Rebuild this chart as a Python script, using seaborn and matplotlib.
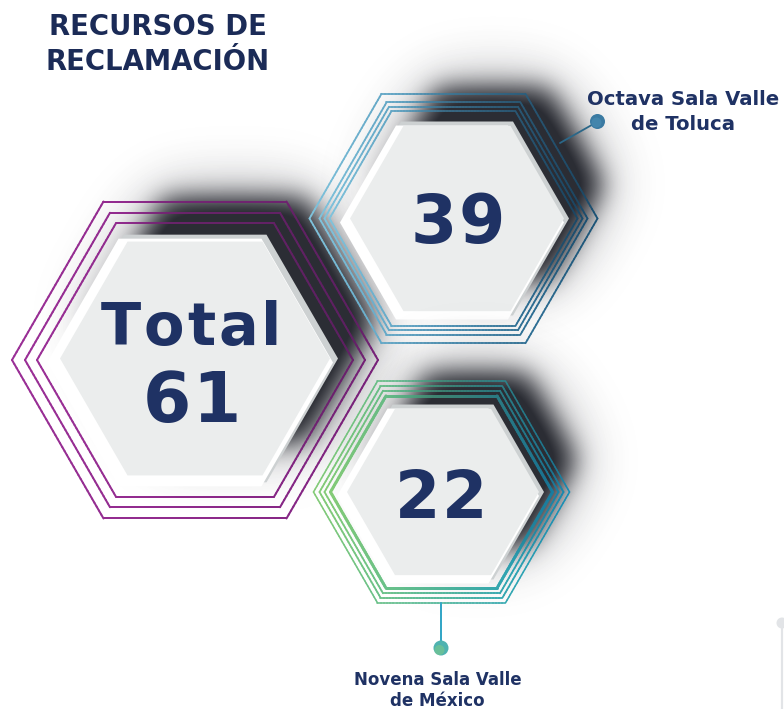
import numpy as np
import matplotlib
matplotlib.use("Agg")
import matplotlib.pyplot as plt
import seaborn as sns
from matplotlib.collections import LineCollection
from matplotlib.patches import Polygon, Circle
from matplotlib.colors import LinearSegmentedColormap, to_rgb

# ---------------- data ----------------
title_lines = ["RECURSOS DE", "RECLAMACIÓN"]
total_label = "Total"
total_value = 61
sala_names = ["Octava Sala Valle\nde Toluca", "Novena Sala Valle\nde México"]
sala_values = [39, 22]

# ---------------- setup ----------------
W, H = 784, 709
PX = 0.72  # points per pixel at dpi 100
sns.set_theme(style="white")
plt.rcParams['font.family'] = ['DejaVu Sans']

fig = plt.figure(figsize=(W / 100, H / 100), dpi=100)
ax = fig.add_axes([0, 0, 1, 1])
fig.patch.set_facecolor('white')
ax.set_xlim(0, W)
ax.set_ylim(H, 0)

S3 = np.sqrt(3)
NAVY = '#1f3264'
SHADOW = '#15171f'


def hex_pts(cx, cy, R):
    ang = np.deg2rad(np.arange(0, 360, 60))
    return np.column_stack([cx + R * np.cos(ang), cy + R * np.sin(ang)])


def grad_hex(cx, cy, R, cmap, lw, z):
    v = hex_pts(cx, cy, R)
    v = np.vstack([v, v[:1]])
    pts = []
    for i in range(6):
        t = np.linspace(0, 1, 40, endpoint=False)[:, None]
        pts.append(v[i] + t * (v[i + 1] - v[i]))
    pts = np.vstack(pts + [v[:1]])
    segs = np.stack([pts[:-1], pts[1:]], axis=1)
    xm = segs[:, :, 0].mean(1)
    cols = cmap(np.clip((xm - (cx - R)) / (2 * R), 0, 1))
    lc = LineCollection(segs, colors=cols, linewidths=lw * PX, capstyle='round',
                        joinstyle='round', zorder=z)
    ax.add_collection(lc)


PAD = 120
yy, xx = np.mgrid[-PAD:H + PAD, -PAD:W + PAD] + 0.5


def hex_mask(cx, cy, R):
    dx = np.abs(xx - cx)
    dy = np.abs(yy - cy)
    return ((dy <= S3 / 2 * R) & (S3 * dx + dy <= S3 * R)).astype(float)


def blur(img, s):
    h, w = img.shape
    ky = np.fft.fftfreq(h)[:, None]
    kx = np.fft.rfftfreq(w)[None, :]
    g = np.exp(-2 * (np.pi * s) ** 2 * (ky ** 2 + kx ** 2))
    return np.fft.irfft2(np.fft.rfft2(img) * g, s=img.shape)


def shadow_alpha(cx, cy, R):
    m = hex_mask(cx, cy, R)
    a = 0.85 * blur(m, 13) + 0.45 * blur(m, 32)
    return np.clip(a[PAD:PAD + H, PAD:PAD + W], 0, 1)


def draw_alpha(a, amax, z):
    rgba = np.zeros((H, W, 4))
    rgba[..., :3] = to_rgb(SHADOW)
    rgba[..., 3] = np.clip(a * amax, 0, 1)
    ax.imshow(rgba, extent=(0, W, H, 0), interpolation='bilinear', zorder=z, aspect='auto')


def fill_hex(cx, cy, R0, band, z):
    ax.add_patch(Polygon(hex_pts(cx, cy, R0), closed=True, fc='#cdd1d2', ec='none', zorder=z))
    ax.add_patch(Polygon(hex_pts(cx - 5, cy + 4, R0), closed=True, fc='white', ec='none', zorder=z + 0.1))
    ax.add_patch(Polygon(hex_pts(cx, cy, R0 - band), closed=True, fc='#ebeded', ec='none', zorder=z + 0.2))


def tracked_text(x, y, s, track, **kw):
    """Centered text with extra letter spacing (track in px)."""
    r = fig.canvas.get_renderer()
    widths = []
    for ch in s:
        t = ax.text(0, 0, ch, **kw)
        widths.append(t.get_window_extent(renderer=r).width)
        t.remove()
    total = sum(widths) + track * (len(s) - 1)
    cur = x - total / 2
    for ch, w in zip(s, widths):
        ax.text(cur, y, ch, ha='left', va='baseline', **kw)
        cur += w + track


purple = LinearSegmentedColormap.from_list('p', ['#9a2f96', '#8e2a8b', '#7f2480'])
blue = LinearSegmentedColormap.from_list('b', ['#80c3dc', '#4a90b5', '#1d5a80'])
green = LinearSegmentedColormap.from_list('g', ['#84cb77', '#50b69a', '#1a9cc8'])

groups = [
    dict(lc=(195, 360), radii=[183, 170, 158], lws=[2.0, 2.0, 2.0], cmap=purple,
         fc=(195, 358.5), R0=143, band=8, sh=(40, -38, -4)),
    dict(lc=(453.5, 218.5), radii=[144, 134, 129, 124], lws=[1.8, 1.8, 1.8, 1.8], cmap=blue,
         fc=(457, 218.5), R0=112, band=5, sh=(36, -34, -3)),
    dict(lc=(441.5, 492), radii=[128, 122, 117, 111], lws=[1.6, 1.8, 1.8, 3.0], cmap=green,
         fc=(443, 492), R0=101, band=5, sh=(34, -32, -3)),
]

for i, g in enumerate(groups):
    base = 10 * (i + 1)
    fx, fy = g['fc']
    ox, oy, dr = g['sh']
    a = shadow_alpha(fx + ox, fy + oy, g['R0'] + dr)
    draw_alpha(a, 0.86, base + 1)
    for R, lw in zip(g['radii'], g['lws']):
        grad_hex(g['lc'][0], g['lc'][1], R, g['cmap'], lw, base + 2)
    draw_alpha(a, 0.32, base + 3)
    fill_hex(fx, fy, g['R0'], g['band'], base + 4)

# ---------------- connectors ----------------
ax.plot([560, 597], [143, 122], color='#2b6788', lw=1.8 * PX, zorder=60, solid_capstyle='round')
ax.add_patch(Circle((597.5, 121.5), 7.5, fc='#3a7aa2', ec='none', zorder=61))
ax.add_patch(Circle((596.5, 122.5), 5.0, fc='#4a8db4', ec='none', zorder=61.5, alpha=0.6))
ax.plot([441, 441], [603, 648], color='#34a6c6', lw=2.0 * PX, zorder=60)
ax.add_patch(Circle((441, 648), 7.5, fc='#4fb3b0', ec='none', zorder=61))
ax.add_patch(Circle((439.5, 650), 5.0, fc='#7cc88a', ec='none', zorder=61.5, alpha=0.6))
# decoration bottom-right
ax.plot([782.5, 782.5], [623, 709], color='#e2e4e7', lw=2.2 * PX, zorder=60)
ax.add_patch(Circle((782, 623), 5.5, fc='#e2e4e7', ec='none', zorder=61))

# ---------------- texts ----------------
tkw = dict(fontweight='bold', color=NAVY, zorder=100)
ax.text(157.5, 35, title_lines[0], ha='center', va='baseline', fontsize=19.8,
        fontweight='bold', color='#1b2b57', zorder=100)
ax.text(157.5, 70, title_lines[1], ha='center', va='baseline', fontsize=19.8,
        fontweight='bold', color='#1b2b57', zorder=100)

tracked_text(191, 345, total_label, 3.0, fontsize=42.5, **tkw)
tracked_text(191.5, 422, str(total_value), 1.0, fontsize=50, **tkw)
tracked_text(458, 243, str(sala_values[0]), 2.0, fontsize=48, **tkw)
tracked_text(441, 518, str(sala_values[1]), 2.0, fontsize=47, **tkw)

l1, l2 = sala_names[0].split('\n')
ax.text(683.5, 105, l1, ha='center', va='baseline', fontsize=14.1, **tkw)
ax.text(683.5, 130, l2, ha='center', va='baseline', fontsize=14.1, **tkw)
m1, m2 = sala_names[1].split('\n')
ax.text(437.5, 685, m1, ha='center', va='baseline', fontsize=12, **tkw)
ax.text(437.5, 706, m2, ha='center', va='baseline', fontsize=12, **tkw)

ax.set_xlim(0, W)
ax.set_ylim(H, 0)
ax.axis('off')
fig.savefig('out.png', dpi=100, facecolor='white')
